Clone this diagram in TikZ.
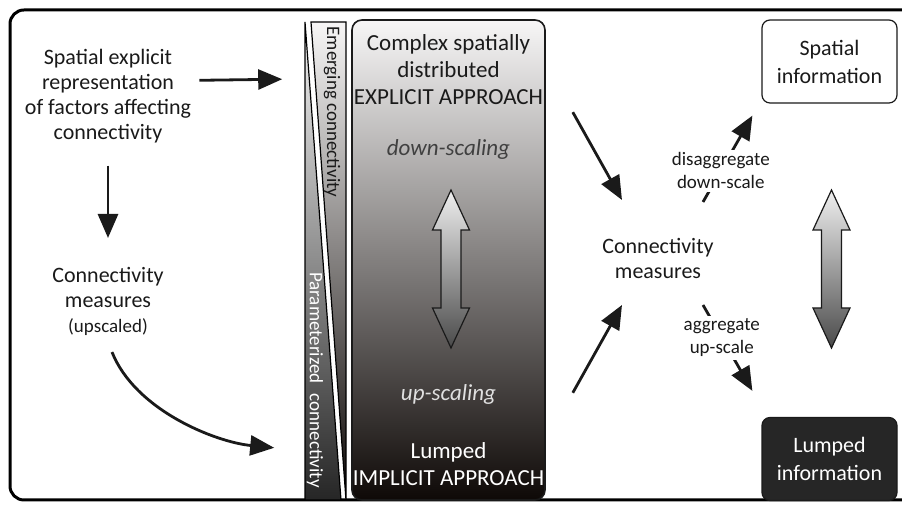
\documentclass[tikz,border=0pt]{standalone}
\usepackage{fontspec}
\setmainfont{Carlito}
\usepackage{xcolor}
\usepackage{tikz}
\usetikzlibrary{arrows.meta,positioning}

\definecolor{ink}{HTML}{1A1A1A}
\definecolor{boxtop}{HTML}{F7F6F6}
\definecolor{boxmid}{HTML}{7A706C}
\definecolor{boxbot}{HTML}{0E0907}
\definecolor{paramtop}{HTML}{F4F4F4}
\definecolor{parammid}{HTML}{6A6A6A}
\definecolor{parambot}{HTML}{262626}
\definecolor{lumpfill}{HTML}{262626}
\definecolor{arrowtop}{HTML}{F0F0F0}
\definecolor{arrowbot}{HTML}{4A4A4A}

\begin{document}
\begin{tikzpicture}[x=0.5pt, y=-0.5pt, node distance=10pt,
  txt/.style={align=center, inner sep=0pt, text=ink, font=\fontsize{11}{12.5}\selectfont},
  bigtxt/.style={txt, font=\fontsize{11.5}{13.5}\selectfont},
  lbl/.style={align=center, inner sep=1.5pt, fill=white, text=ink, font=\fontsize{9.5}{11.5}\selectfont},
  flow/.style={-{Triangle[length=12pt,width=10pt]}, line width=1.4pt, draw=ink},
  infobox/.style={txt, draw=ink, rounded corners=4pt, line width=0.6pt, minimum width=67.5pt, minimum height=41.5pt, font=\fontsize{11}{14}\selectfont},
  wedgetxt/.style={inner sep=0pt, rotate=-90, font=\fontsize{9.5}{11}\selectfont}]
 \clip (0,0) rectangle (902,506);
 % Frame
 \draw[line width=1.5pt, rounded corners=7pt] (10,10) rectangle (930,500);
 % Wedges
 \draw[line width=0.6pt, top color=paramtop, middle color=parammid, bottom color=parambot]
   (305,22) -- (341,500) -- (305,500) -- cycle;
 \draw[line width=0.6pt, top color=boxtop, middle color=boxmid, bottom color=boxbot]
   (311,22) -- (346,22) -- (346,500) -- cycle;
 \node[wedgetxt, text=ink] (emerging) at (332,112) {Emerging connectivity};
 \node[wedgetxt, text=white] (param) at (315,380) {Parameterized\hspace{3pt} connectivity};
 %Nodes
 \node[draw=ink, line width=0.8pt, rounded corners=5pt, minimum width=96.5pt, minimum height=240pt,
   top color=boxtop, middle color=boxmid, bottom color=boxbot] (mainbox) at (448.5,260) {};
 \node[bigtxt, below=7.5pt of mainbox.north] (explicit) {Complex spatially\\distributed\\EXPLICIT APPROACH};
 \node[bigtxt, text=black!75, below=60pt of mainbox.north] (down) {\itshape down-scaling};
 \node[bigtxt, text=black!12, below=182.5pt of mainbox.north] (up) {\itshape up-scaling};
 \node[bigtxt, text=white, above=7.5pt of mainbox.south] (implicit) {Lumped\\IMPLICIT APPROACH};

 \node[txt, anchor=north] (spatialrep) at (108,49) {Spatial explicit\\representation\\of factors affecting\\connectivity};
 \node[txt, anchor=north] (cmup) at (108,267) {Connectivity\\measures\\{\fontsize{9.5}{11}\selectfont (upscaled)}};
 \node[txt] (cm) at (658,258) {Connectivity\\measures};
 \node[infobox, fill=white] (spatial) at (829.5,61.5) {Spatial\\information};
 \node[infobox, fill=lumpfill, text=white] (lumped) at (829.5,459) {Lumped\\information};

 % Scale arrows
 \foreach \x in {451,831.5} {
   \draw[line width=0.6pt, draw=ink, top color=arrowtop, bottom color=arrowbot]
     (\x,190) -- (\x+18.5,230) -- (\x+10,230) -- (\x+10,308) -- (\x+18.5,308) -- (\x,348)
     -- (\x-18.5,308) -- (\x-10,308) -- (\x-10,230) -- (\x-18.5,230) -- cycle;
 }

 % Arrows
 \draw[flow] ([shift={(8,-16)}]spatialrep.east) -- ([shift={(-69,60)}]mainbox.north west);
 \draw[flow] ([yshift=-11pt]spatialrep.south) -- ([yshift=14.5pt]cmup.north);
 \draw[flow] ([shift={(4,16)}]cmup.south) .. controls (135,410) and (215,442) .. ([shift={(-77,-53)}]mainbox.south west);
 \draw[flow] ([shift={(27,93)}]mainbox.north east) -- ([shift={(-36,-58)}]cm.center);
 \draw[flow] ([shift={(27,-108)}]mainbox.south east) -- ([shift={(-36,47)}]cm.center);
 \draw[flow] ([shift={(45,-56)}]cm.center) -- node[lbl, pos=.36] (dis) {disaggregate\\down-scale} ([shift={(-9,12)}]spatial.south west);
 \draw[flow] ([shift={(45,47)}]cm.center) -- node[lbl, pos=.38] (agg) {aggregate\\up-scale} ([shift={(-9,-26)}]lumped.north west);
\end{tikzpicture}
\end{document}
